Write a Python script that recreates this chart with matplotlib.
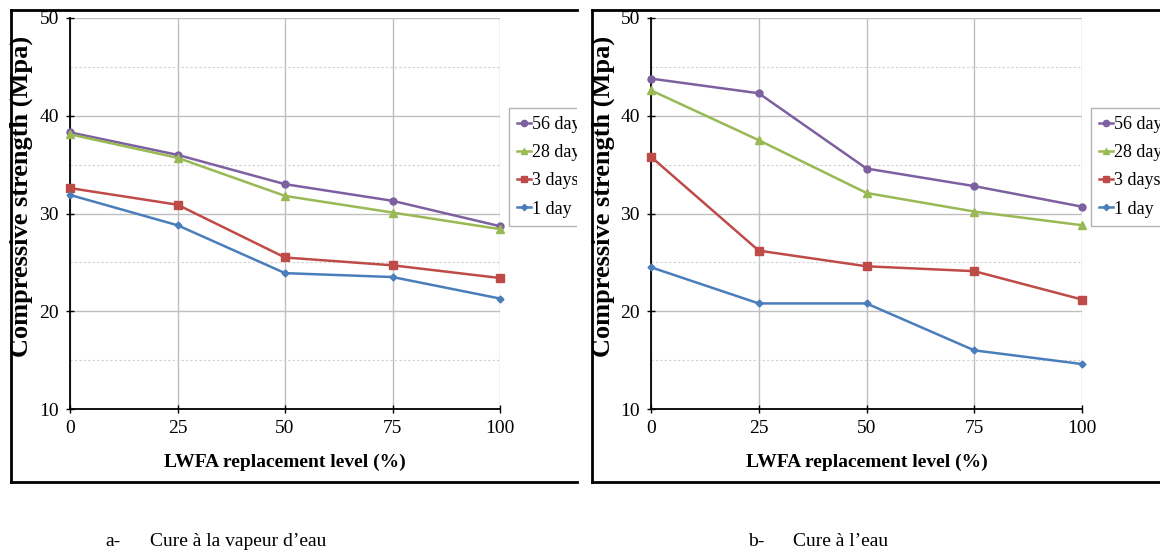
import numpy as np
import matplotlib
matplotlib.use("Agg")
import matplotlib.pyplot as plt
from matplotlib.lines import Line2D
from matplotlib.patches import Rectangle

plt.rcParams['font.family'] = ['Liberation Serif', 'DejaVu Serif']

levels = [0, 25, 50, 75, 100]
series_names = ["56 days", "28 days", "3 days", "1 day"]

# a- steam curing
vapeur_56 = [38.3, 36.0, 33.0, 31.3, 28.7]
vapeur_28 = [38.1, 35.7, 31.8, 30.1, 28.4]
vapeur_3 = [32.6, 30.9, 25.5, 24.7, 23.4]
vapeur_1 = [31.9, 28.8, 23.9, 23.5, 21.3]

# b- water curing
eau_56 = [43.8, 42.3, 34.6, 32.8, 30.7]
eau_28 = [42.6, 37.5, 32.1, 30.2, 28.8]
eau_3 = [35.8, 26.2, 24.6, 24.1, 21.2]
eau_1 = [24.5, 20.8, 20.8, 16.0, 14.6]

colors = ["#7D60A0", "#98B954", "#BE4B48", "#4A7EBB"]
markers = ["o", "^", "s", "D"]
msizes = [5, 5.5, 5.5, 3.5]

W, H = 1160, 557
fig = plt.figure(figsize=(W / 100, H / 100), dpi=100)


def px_rect(x0, y0, x1, y1):
    return [x0 / W, 1 - y1 / H, (x1 - x0) / W, (y1 - y0) / H]


def draw_panel(ax, data):
    for vals, c, m, ms, name in zip(data, colors, markers, msizes, series_names):
        ax.plot(levels, vals, color=c, marker=m, markersize=ms, lw=1.8,
                label=name, clip_on=False, zorder=3)
    ax.set_xlim(0, 100)
    ax.set_ylim(10, 50)
    ax.set_xticks(levels)
    ax.set_yticks([10, 20, 30, 40, 50])
    ax.set_yticks([15, 25, 35, 45], minor=True)
    ax.tick_params(axis='y', which='minor', length=0)
    ax.grid(True, which='major', color='#BFBFBF', lw=1.0)
    ax.grid(True, which='minor', axis='y', color='#D0D0D0', lw=0.8, ls=(0, (2, 2)))
    ax.set_axisbelow(True)
    for s in ['top', 'right']:
        ax.spines[s].set_visible(False)
    for s in ['left', 'bottom']:
        ax.spines[s].set_linewidth(1.3)
    ax.tick_params(axis='both', which='major', labelsize=14, direction='inout',
                   length=6, width=1.0, pad=5)
    ax.set_xlabel("LWFA replacement level (%)", fontsize=14, fontweight='bold', labelpad=12)
    handles = [Line2D([], [], color=c, marker=m, markersize=ms * 0.9, lw=1.8)
               for c, m, ms in zip(colors, markers, msizes)]
    leg = ax.legend(handles, series_names, loc='upper left', bbox_to_anchor=(1.02, 0.77),
                    fontsize=13, frameon=True, fancybox=False, edgecolor='#A0A0A0',
                    handlelength=0.8, handletextpad=0.05, borderpad=0.45,
                    labelspacing=0.62, borderaxespad=0)
    leg.get_frame().set_linewidth(1.0)


ax1 = fig.add_axes(px_rect(70, 18, 500, 409))
draw_panel(ax1, [vapeur_56, vapeur_28, vapeur_3, vapeur_1])
ax2 = fig.add_axes(px_rect(651, 18, 1082, 409))
draw_panel(ax2, [eau_56, eau_28, eau_3, eau_1])

# white mask between the two frames (hides the clipped part of the left legend)
fig.add_artist(Rectangle((577 / W, 1 - 240 / H), 40 / W, 150 / H, transform=fig.transFigure,
                         facecolor='white', edgecolor='none', zorder=10))

# outer frames (right side cut off in the original)
for x0, x1 in [(11, 577), (592, 1165)]:
    y0, y1 = 1 - 10 / H, 1 - 482 / H
    fig.add_artist(Line2D([x0 / W, x1 / W], [y0, y0], color='black', lw=2, zorder=11))
    fig.add_artist(Line2D([x0 / W, x1 / W], [y1, y1], color='black', lw=2, zorder=11))
    fig.add_artist(Line2D([x0 / W, x0 / W], [y0, y1], color='black', lw=2, zorder=11))

# y axis titles
for xc in [21, 603]:
    fig.text(xc / W, 1 - 196 / H, "Compressive strength (Mpa)", fontsize=19,
             fontweight='bold', rotation=90, ha='center', va='center', zorder=12)

fig.text(105 / W, 1 - 546 / H, "a-", fontsize=14, va='baseline')
fig.text(150 / W, 1 - 546 / H, "Cure à la vapeur d\u2019eau", fontsize=14, va='baseline')
fig.text(748 / W, 1 - 546 / H, "b-", fontsize=14, va='baseline')
fig.text(793 / W, 1 - 546 / H, "Cure à l\u2019eau", fontsize=14, va='baseline')

fig.savefig("out.png", dpi=100)
